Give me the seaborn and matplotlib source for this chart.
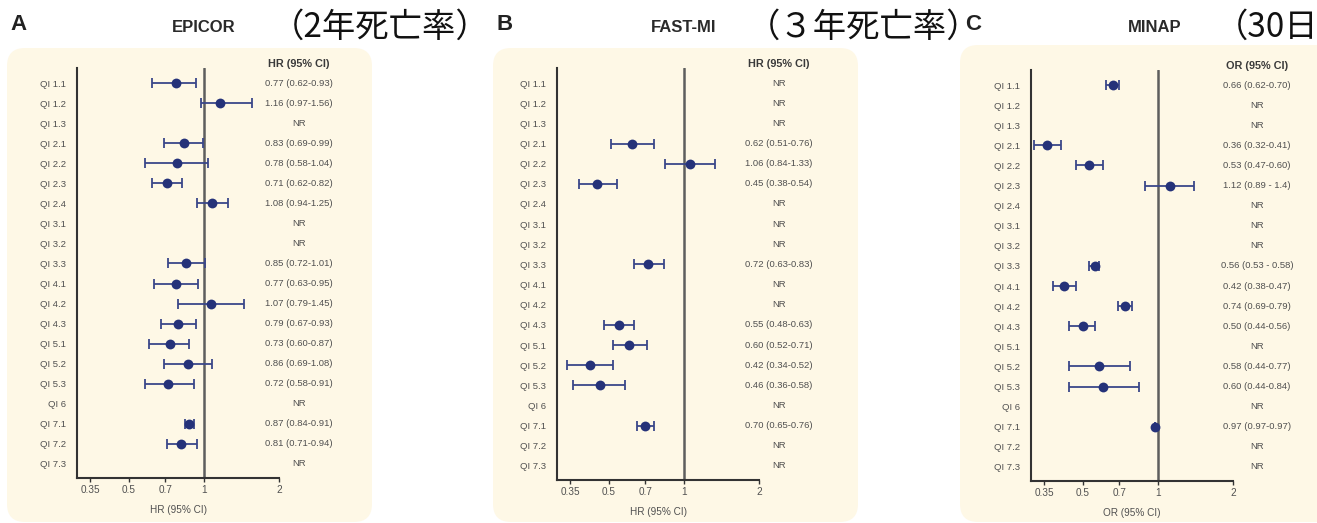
import numpy as np
import matplotlib
matplotlib.use("Agg")
import matplotlib.pyplot as plt
import seaborn as sns
from matplotlib.patches import FancyBboxPatch
from matplotlib.transforms import IdentityTransform, blended_transform_factory
from matplotlib.ticker import NullLocator

nan = np.nan

qi_labels = ["QI 1.1", "QI 1.2", "QI 1.3", "QI 2.1", "QI 2.2", "QI 2.3", "QI 2.4",
             "QI 3.1", "QI 3.2", "QI 3.3", "QI 4.1", "QI 4.2", "QI 4.3", "QI 5.1",
             "QI 5.2", "QI 5.3", "QI 6", "QI 7.1", "QI 7.2", "QI 7.3"]

# EPICOR (2-year mortality), HR
epicor_hr = [0.77, 1.16, nan, 0.83, 0.78, 0.71, 1.08, nan, nan, 0.85, 0.77, 1.07, 0.79, 0.73, 0.86, 0.72, nan, 0.87, 0.81, nan]
epicor_lo = [0.62, 0.97, nan, 0.69, 0.58, 0.62, 0.94, nan, nan, 0.72, 0.63, 0.79, 0.67, 0.60, 0.69, 0.58, nan, 0.84, 0.71, nan]
epicor_hi = [0.93, 1.56, nan, 0.99, 1.04, 0.82, 1.25, nan, nan, 1.01, 0.95, 1.45, 0.93, 0.87, 1.08, 0.91, nan, 0.91, 0.94, nan]
epicor_txt = ["0.77 (0.62-0.93)", "1.16 (0.97-1.56)", "NR", "0.83 (0.69-0.99)", "0.78 (0.58-1.04)",
              "0.71 (0.62-0.82)", "1.08 (0.94-1.25)", "NR", "NR", "0.85 (0.72-1.01)", "0.77 (0.63-0.95)",
              "1.07 (0.79-1.45)", "0.79 (0.67-0.93)", "0.73 (0.60-0.87)", "0.86 (0.69-1.08)",
              "0.72 (0.58-0.91)", "NR", "0.87 (0.84-0.91)", "0.81 (0.71-0.94)", "NR"]

# FAST-MI (3-year mortality), HR
fastmi_hr = [nan, nan, nan, 0.62, 1.06, 0.45, nan, nan, nan, 0.72, nan, nan, 0.55, 0.60, 0.42, 0.46, nan, 0.70, nan, nan]
fastmi_lo = [nan, nan, nan, 0.51, 0.84, 0.38, nan, nan, nan, 0.63, nan, nan, 0.48, 0.52, 0.34, 0.36, nan, 0.65, nan, nan]
fastmi_hi = [nan, nan, nan, 0.76, 1.33, 0.54, nan, nan, nan, 0.83, nan, nan, 0.63, 0.71, 0.52, 0.58, nan, 0.76, nan, nan]
fastmi_txt = ["NR", "NR", "NR", "0.62 (0.51-0.76)", "1.06 (0.84-1.33)", "0.45 (0.38-0.54)", "NR", "NR", "NR",
              "0.72 (0.63-0.83)", "NR", "NR", "0.55 (0.48-0.63)", "0.60 (0.52-0.71)", "0.42 (0.34-0.52)",
              "0.46 (0.36-0.58)", "NR", "0.70 (0.65-0.76)", "NR", "NR"]

# MINAP (30-day mortality), OR
minap_or = [0.66, nan, nan, 0.36, 0.53, 1.12, nan, nan, nan, 0.56, 0.42, 0.74, 0.50, nan, 0.58, 0.60, nan, 0.97, nan, nan]
minap_lo = [0.62, nan, nan, 0.32, 0.47, 0.89, nan, nan, nan, 0.53, 0.38, 0.69, 0.44, nan, 0.44, 0.44, nan, 0.97, nan, nan]
minap_hi = [0.70, nan, nan, 0.41, 0.60, 1.40, nan, nan, nan, 0.58, 0.47, 0.79, 0.56, nan, 0.77, 0.84, nan, 0.97, nan, nan]
minap_txt = ["0.66 (0.62-0.70)", "NR", "NR", "0.36 (0.32-0.41)", "0.53 (0.47-0.60)", "1.12 (0.89 - 1.4)",
             "NR", "NR", "NR", "0.56 (0.53 - 0.58)", "0.42 (0.38-0.47)", "0.74 (0.69-0.79)",
             "0.50 (0.44-0.56)", "NR", "0.58 (0.44-0.77)", "0.60 (0.44-0.84)", "NR", "0.97 (0.97-0.97)", "NR", "NR"]

x_ticks = [0.35, 0.5, 0.7, 1, 2]
x_ticklabels = ["0.35", "0.5", "0.7", "1", "2"]

sns.set_theme(style="white")
plt.rcParams['font.family'] = ['Liberation Sans', 'Noto Sans CJK JP', 'DejaVu Sans']

W, H = 1317, 523
fig = plt.figure(figsize=(W / 100, H / 100), dpi=100)
fig.patch.set_facecolor("white")

cream = "#fef8e6"
dot_col = "#253279"
bar_col = "#3a4789"
txt_col = "#505050"

# cream rounded panels (pixel coords, y from top)
for x0, x1, top in [(7, 372, 48), (493, 858, 48), (960, 1340, 45)]:
    box = FancyBboxPatch((x0, H - 522), x1 - x0, 522 - top,
                         boxstyle="round,pad=0,rounding_size=18",
                         transform=IdentityTransform(), facecolor=cream,
                         edgecolor="none", zorder=0)
    fig.add_artist(box)


def draw_panel(ax, hr, lo, hi, texts, head, xlab, col_x):
    pos = np.arange(len(qi_labels))
    hr, lo, hi = np.array(hr), np.array(lo), np.array(hi)
    ok = ~np.isnan(hr)
    ax.axvline(1, color="#5e5e5e", lw=1.8, zorder=1)
    ax.errorbar(hr[ok], pos[ok], xerr=[hr[ok] - lo[ok], hi[ok] - hr[ok]], fmt="none",
                ecolor=bar_col, elinewidth=1.3, capsize=3.3, capthick=1.3, zorder=2)
    sns.scatterplot(x=hr[ok], y=pos[ok], ax=ax, color=dot_col, s=50, linewidth=0, zorder=3)
    ax.set_xscale("log")
    ax.set_xlim(0.31, 2)
    ax.set_ylim(19.7, -0.75)
    ax.set_facecolor("none")
    ax.set_xticks(x_ticks)
    ax.set_xticklabels(x_ticklabels)
    ax.xaxis.set_minor_locator(NullLocator())
    ax.set_yticks(pos)
    ax.set_yticklabels(qi_labels)
    ax.tick_params(axis="y", length=0, pad=8, labelsize=6.8, labelcolor=txt_col)
    ax.tick_params(axis="x", length=3, width=1, color="#333333", pad=2,
                   labelsize=7.2, labelcolor=txt_col, bottom=True)
    for side in ["top", "right"]:
        ax.spines[side].set_visible(False)
    for side in ["left", "bottom"]:
        ax.spines[side].set_color("#333333")
        ax.spines[side].set_linewidth(1.5)
    ax.set_xlabel(xlab, fontsize=7.2, color=txt_col, labelpad=7)
    ax.set_ylabel("")
    trans = blended_transform_factory(ax.transAxes, ax.transData)
    ax.text(col_x, -0.95, head, transform=trans, ha="center", va="center",
            fontsize=7.8, fontweight="bold", color="#3a3a3a", clip_on=False)
    for i, t in enumerate(texts):
        ax.text(col_x, i, t, transform=trans, ha="center", va="center",
                fontsize=6.8, color=txt_col, clip_on=False)


panels = [
    (77, 68, 478, epicor_hr, epicor_lo, epicor_hi, epicor_txt, "HR (95% CI)", "HR (95% CI)", 1.099),
    (557, 68, 480, fastmi_hr, fastmi_lo, fastmi_hi, fastmi_txt, "HR (95% CI)", "HR (95% CI)", 1.099),
    (1031, 70, 481, minap_or, minap_lo, minap_hi, minap_txt, "OR (95% CI)", "OR (95% CI)", 1.119),
]
for left, top, bottom, hr, lo, hi, texts, head, xlab, col_x in panels:
    ax = fig.add_axes([left / W, (H - bottom) / H, 202 / W, (bottom - top) / H])
    draw_panel(ax, hr, lo, hi, texts, head, xlab, col_x)

# panel letters, study names and Japanese subtitles
letters = [("A", 10), ("B", 497), ("C", 965)]
for lt, x in letters:
    fig.text(x / W, 1 - 25 / H, lt, fontsize=16, fontweight="bold", color="#222222",
             ha="left", va="center")
studies = [("EPICOR", 204), ("FAST-MI", 684), ("MINAP", 1155)]
for name, x in studies:
    fig.text(x / W, 1 - 27 / H, name, fontsize=12, fontweight="bold", color="#2a2a2a",
             ha="center", va="center")
subtitles = [("（2年死亡率）", 271), ("（３年死亡率）", 747), ("（30日死亡率）", 1215)]
for sub, x in subtitles:
    fig.text(x / W, 1 - 27 / H, sub, fontsize=24, color="#111111", ha="left", va="center",
             family=['Noto Sans CJK JP', 'DejaVu Sans'])

fig.savefig("out.png", dpi=100)
